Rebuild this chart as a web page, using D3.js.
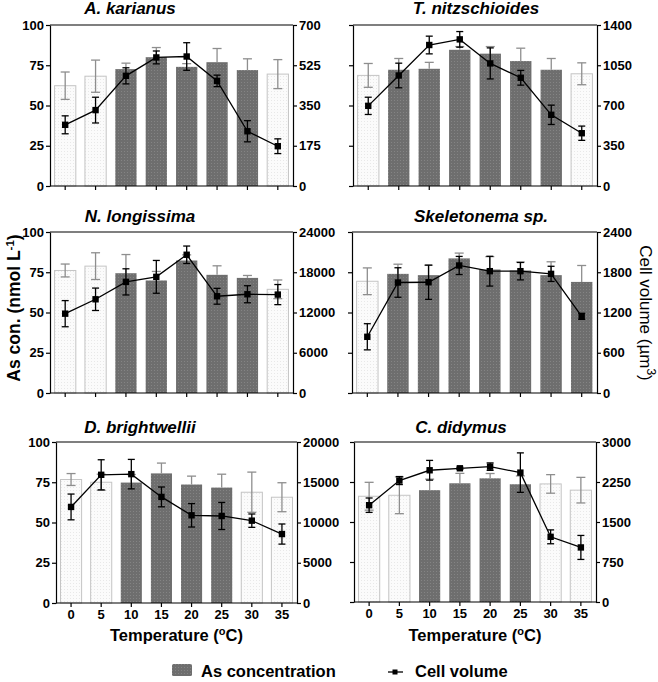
<!DOCTYPE html>
<html><head><meta charset="utf-8">
<script src="https://cdn.jsdelivr.net/npm/d3@7"></script>
<style>body{margin:0;background:#fff} text{font-family:"Liberation Sans",Arial,sans-serif}</style>
</head><body><svg id="c" width="658" height="682"></svg>
<script>
// ---------------- data ----------------
const temps = [0, 5, 10, 15, 20, 25, 30, 35];
const species = ["A. karianus", "T. nitzschioides", "N. longissima", "Skeletonema sp.", "D. brightwellii", "C. didymus"];
const asTicks = [0, 25, 50, 75, 100];
// As concentration (nmol L-1) mean and SD
const asMean = [
  [62.3, 68.2, 72.6, 80.0, 74.0, 76.9, 72.0, 69.5],
  [68.7, 72.2, 72.8, 84.6, 82.2, 77.6, 72.2, 69.7],
  [76.1, 78.8, 74.4, 69.9, 82.3, 73.4, 71.5, 64.4],
  [69.4, 74.0, 73.2, 83.6, 76.7, 76.1, 73.2, 69.0],
  [76.7, 75.0, 74.8, 80.5, 73.6, 71.7, 68.8, 65.7],
  [66.1, 66.7, 69.9, 74.2, 77.3, 73.6, 73.8, 69.9]
];
const asErr = [
  [8.5, 10.0, 3.7, 6.0, 2.0, 8.5, 7.0, 9.0],
  [7.4, 7.0, 4.0, 2.0, 4.4, 8.0, 7.0, 6.8],
  [4.0, 8.3, 11.6, 5.6, 3.5, 5.6, 1.5, 5.8],
  [8.3, 6.0, 6.2, 3.3, 8.0, 5.2, 8.3, 10.2],
  [3.7, 5.0, 5.0, 6.4, 5.2, 8.3, 12.5, 9.0],
  [8.7, 11.5, 6.9, 6.2, 3.0, 5.2, 5.8, 8.0]
];
// 1 = dark (grey) bar, 0 = light bar
const barShade = [
  [0, 0, 1, 1, 1, 1, 1, 0],
  [0, 1, 1, 1, 1, 1, 1, 0],
  [0, 0, 1, 1, 1, 1, 1, 0],
  [0, 1, 1, 1, 1, 1, 1, 1],
  [0, 0, 1, 1, 1, 1, 0, 0],
  [0, 0, 1, 1, 1, 1, 0, 0]
];
// Cell volume (um3) mean and SD
const volMean = [
  [266, 330, 479, 559, 563, 457, 238, 173],
  [697, 961, 1226, 1275, 1066, 941, 619, 459],
  [11825, 13970, 16565, 17314, 20607, 14420, 14720, 14670],
  [838, 1647, 1651, 1901, 1816, 1816, 1776, 1143],
  [11933, 15925, 16008, 13180, 10894, 10810, 10228, 8565],
  [1815, 2277, 2470, 2507, 2538, 2426, 1222, 1023]
];
const volErr = [
  [39, 56, 35, 28, 60, 25, 46, 32],
  [75, 107, 77, 68, 135, 64, 84, 62],
  [1950, 1670, 1950, 2445, 1300, 1180, 1270, 1500],
  [195, 220, 255, 135, 222, 130, 113, 45],
  [1600, 1870, 1830, 1230, 1455, 1680, 830, 1250],
  [135, 75, 185, 20, 70, 370, 130, 225]
];
const volMax = [700, 1400, 24000, 2400, 20000, 3000];

// ---------------- layout ----------------
const panels = [
  {x0: 50, x1: 293, y0: 25, y1: 186, tx: 130, ty: 14, left: true, bottom: false},
  {x0: 353, x1: 597, y0: 25, y1: 186, tx: 476, ty: 14, left: false, bottom: false},
  {x0: 50, x1: 293, y0: 232, y1: 393, tx: 140, ty: 222, left: true, bottom: false},
  {x0: 352, x1: 597, y0: 232, y1: 393, tx: 481, ty: 222, left: false, bottom: false},
  {x0: 56, x1: 297, y0: 442, y1: 603, tx: 140, ty: 433, left: true, bottom: true},
  {x0: 354, x1: 596, y0: 442, y1: 602, tx: 461, ty: 433, left: false, bottom: true}
];

const svg = d3.select("#c");
const defs = svg.append("defs");
function dotPattern(id, bg, dot) {
  const p = defs.append("pattern").attr("id", id).attr("patternUnits", "userSpaceOnUse")
    .attr("width", 3).attr("height", 3);
  p.append("rect").attr("width", 3).attr("height", 3).attr("fill", bg);
  p.append("rect").attr("x", 1).attr("y", 1).attr("width", 1).attr("height", 1).attr("fill", dot);
}
dotPattern("darkDots", "#6e6e6e", "#848484");
dotPattern("lightDots", "#fbfbfb", "#e8e8e8");

const tickFont = 13;

panels.forEach((P, i) => {
  const g = svg.append("g");
  const x = d3.scaleBand().domain(temps).range([P.x0, P.x1]).paddingInner(0.3).paddingOuter(0.15);
  const yL = d3.scaleLinear().domain([0, 100]).range([P.y1, P.y0]);
  const yR = d3.scaleLinear().domain([0, volMax[i]]).range([P.y1, P.y0]);
  const bw = x.bandwidth();
  const rows = temps.map((t, k) => ({t, a: asMean[i][k], ae: asErr[i][k], dark: barShade[i][k], v: volMean[i][k], ve: volErr[i][k]}));

  // bars
  g.selectAll("rect.bar").data(rows).join("rect")
    .attr("x", d => x(d.t)).attr("y", d => yL(d.a))
    .attr("width", bw).attr("height", d => yL(0) - yL(d.a))
    .attr("fill", d => d.dark ? "url(#darkDots)" : "url(#lightDots)")
    .attr("stroke", d => d.dark ? "none" : "#c4c4c4").attr("stroke-width", 1);

  // bar error bars
  const be = g.append("g").attr("stroke", "#8e8e8e").attr("stroke-width", 1.3).attr("fill", "none");
  rows.forEach(d => {
    const cx = x(d.t) + bw / 2;
    const top = yL(d.a + d.ae), bot = d.dark ? yL(d.a) : yL(d.a - d.ae);
    be.append("line").attr("x1", cx).attr("x2", cx).attr("y1", top).attr("y2", bot);
    be.append("line").attr("x1", cx - 4.5).attr("x2", cx + 4.5).attr("y1", top).attr("y2", top);
    if (!d.dark) be.append("line").attr("x1", cx - 4.5).attr("x2", cx + 4.5).attr("y1", bot).attr("y2", bot);
  });

  // frame top
  g.append("line").attr("x1", P.x0).attr("x2", P.x1).attr("y1", P.y0).attr("y2", P.y0)
    .attr("stroke", "#000").attr("stroke-width", 1.2);

  // left axis
  const la = g.append("g").attr("transform", `translate(${P.x0},0)`)
    .call(d3.axisLeft(yL).tickValues(asTicks).tickSize(4).tickSizeOuter(0).tickPadding(2)
      .tickFormat(P.left ? d3.format("d") : () => ""));
  // right axis
  const ra = g.append("g").attr("transform", `translate(${P.x1},0)`)
    .call(d3.axisRight(yR).tickValues(d3.range(0, volMax[i] + 1, volMax[i] / 4))
      .tickSize(4).tickSizeOuter(0).tickPadding(2).tickFormat(d3.format("d")));
  // bottom axis
  const ba = g.append("g").attr("transform", `translate(0,${P.y1})`)
    .call(d3.axisBottom(x).tickSize(4).tickSizeOuter(0).tickPadding(3)
      .tickFormat(P.bottom ? d3.format("d") : () => ""));
  [la, ra, ba].forEach(a => {
    a.select(".domain").attr("stroke", "#000").attr("stroke-width", 1.2);
    a.selectAll(".tick line").attr("stroke", "#000").attr("stroke-width", 1.2);
    a.selectAll("text").attr("font-family", '"Liberation Sans",Arial,sans-serif')
      .attr("font-size", tickFont).attr("font-weight", "bold").attr("fill", "#000");
  });
  ba.select(".domain").attr("d", `M${P.x0},0H${P.x1}`);

  // line error bars
  const le = g.append("g").attr("stroke", "#000").attr("stroke-width", 1.3);
  rows.forEach(d => {
    const cx = x(d.t) + bw / 2;
    const top = yR(d.v + d.ve), bot = yR(d.v - d.ve);
    le.append("line").attr("x1", cx).attr("x2", cx).attr("y1", top).attr("y2", bot);
    le.append("line").attr("x1", cx - 3.5).attr("x2", cx + 3.5).attr("y1", top).attr("y2", top);
    le.append("line").attr("x1", cx - 3.5).attr("x2", cx + 3.5).attr("y1", bot).attr("y2", bot);
  });
  // line
  g.append("path").datum(rows)
    .attr("d", d3.line().x(d => x(d.t) + bw / 2).y(d => yR(d.v)))
    .attr("fill", "none").attr("stroke", "#000").attr("stroke-width", 1.3);
  g.selectAll("rect.pt").data(rows).join("rect")
    .attr("x", d => x(d.t) + bw / 2 - 3.2).attr("y", d => yR(d.v) - 3.2)
    .attr("width", 6.4).attr("height", 6.4).attr("fill", "#000");

  // title
  g.append("text").attr("x", P.tx).attr("y", P.ty).attr("text-anchor", "middle")
    .attr("font-size", 17).attr("font-weight", "bold").attr("font-style", "italic").text(species[i]);

  if (P.bottom) {
    const t = g.append("text").attr("x", (P.x0 + P.x1) / 2).attr("y", 641).attr("text-anchor", "middle")
      .attr("font-size", 16.5).attr("font-weight", "bold");
    t.append("tspan").text("Temperature (");
    t.append("tspan").attr("dy", -6).attr("font-size", 11).text("o");
    t.append("tspan").attr("dy", 6).text("C)");
  }
});

// y axis titles
const lt = svg.append("text").attr("transform", "translate(20,308) rotate(-90)").attr("text-anchor", "middle")
  .attr("font-size", 17.5).attr("font-weight", "bold");
lt.append("tspan").text("As con. (nmol L");
lt.append("tspan").attr("dy", -6).attr("font-size", 11.5).text("-1");
lt.append("tspan").attr("dy", 6).text(")");

const rt = svg.append("text").attr("transform", "translate(640,313) rotate(90)").attr("text-anchor", "middle")
  .attr("font-size", 17);
rt.append("tspan").text("Cell volume (\u00b5m");
rt.append("tspan").attr("dy", -7).attr("font-size", 12).text("3");
rt.append("tspan").attr("dy", 7).text(")");

// legend
const lg = svg.append("g");
lg.append("rect").attr("x", 172).attr("y", 664).attr("width", 20).attr("height", 12).attr("rx", 1.5)
  .attr("fill", "url(#darkDots)");
lg.append("text").attr("x", 201).attr("y", 677).attr("font-size", 16.5).attr("font-weight", "bold").text("As concentration");
lg.append("line").attr("x1", 388).attr("x2", 403).attr("y1", 672).attr("y2", 672).attr("stroke", "#000").attr("stroke-width", 1.3);
lg.append("rect").attr("x", 392.5).attr("y", 669.5).attr("width", 5).attr("height", 5).attr("fill", "#000");
lg.append("text").attr("x", 415).attr("y", 677).attr("font-size", 16.5).attr("font-weight", "bold").text("Cell volume");
</script></body></html>
